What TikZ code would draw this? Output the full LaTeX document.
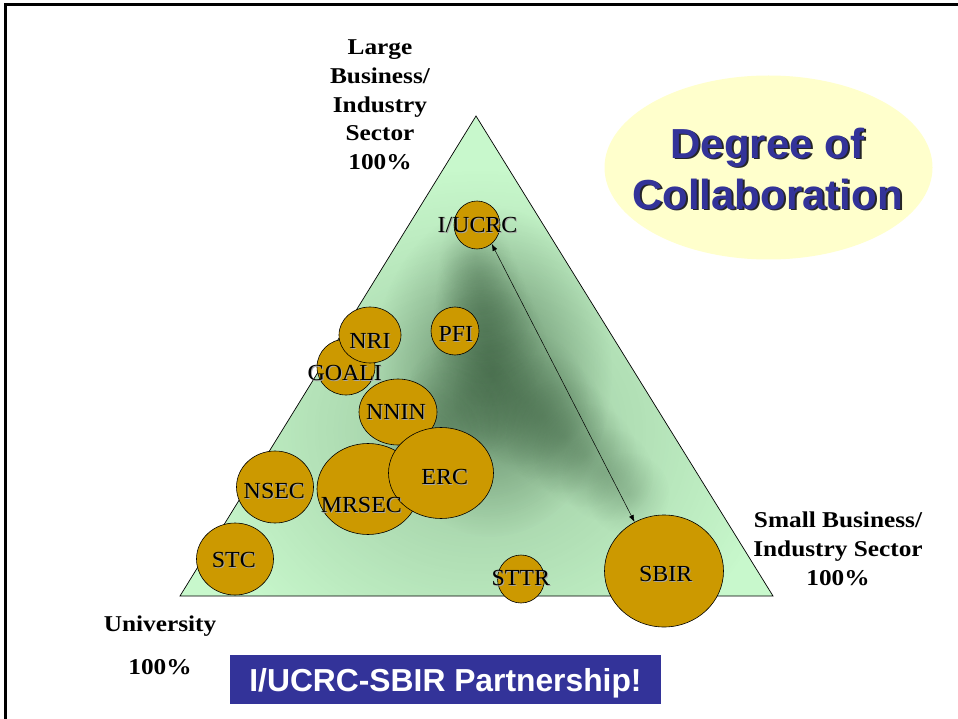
\documentclass[tikz,border=0pt]{standalone}
\usepackage{fontspec}
\setmainfont{Liberation Serif}[FakeStretch=1.12]
\newfontfamily\orgfont{Liberation Serif}[FakeStretch=1.04]
\newfontfamily\headsans{Liberation Sans}
\usepackage{tikz}
\usetikzlibrary{shapes.geometric,arrows.meta,calc,fadings}
\definecolor{trigreen}{RGB}{200,248,204}
\definecolor{shadegreen}{RGB}{50,85,55}
\definecolor{gold}{RGB}{204,153,0}
\definecolor{paleyellow}{RGB}{255,255,204}
\definecolor{slideblue}{RGB}{51,51,153}
\tikzfading[name=softblob, inner color=transparent!0, outer color=transparent!100]

\begin{document}
\begin{tikzpicture}[x=1pt,y=-1pt]
    \tikzstyle{org}=[ellipse, draw=black, line width=0.6pt, fill=gold, inner sep=0pt]
    \tikzstyle{lbl}=[anchor=base, inner sep=0pt, font=\orgfont\fontsize{23}{27}\selectfont]
    \tikzstyle{lblsh}=[lbl, text=black!35]
    \tikzstyle{head}=[align=center, inner sep=0pt, font=\bfseries\fontsize{22.6}{28.75}\selectfont]
    \tikzstyle{title}=[align=center, inner sep=0pt, font=\headsans\bfseries\fontsize{42}{51}\selectfont]
    \tikzstyle{blob}=[shadegreen, path fading=softblob]
    \useasboundingbox (0,0) rectangle (958,719);
    \fill[white] (0,0) rectangle (958,719);
    \draw[line width=3pt] (5.5,719) -- (5.5,4.5) -- (958,4.5);
    \coordinate (lb) at (180,596);
    \coordinate (top) at (476,116);
    \coordinate (rb) at (773,596);
    \fill[trigreen] (lb) -- (top) -- (rb) -- cycle;
    \begin{scope}
        \clip (lb) -- (top) -- (rb) -- cycle;
        \coordinate (sc) at (492,372);
        \coordinate (ua) at (474,250);
        \coordinate (ra) at (635,500);
        \coordinate (la) at (395,470);
        \fill[blob, opacity=0.3] (480,430) ellipse [x radius=300, y radius=260];
        \fill[blob, opacity=0.6] (sc) ellipse [x radius=120, y radius=165];
        \foreach \t in {0.2,0.35,...,1.0}
        {
            \fill[blob, opacity={0.35-0.15*\t}] ($(sc)!\t!(ra)$) circle [radius={75-35*\t}];
            \fill[blob, opacity={0.3-0.15*\t}] ($(sc)!\t!(ua)$) circle [radius={65-30*\t}];
            \fill[blob, opacity={0.2-0.1*\t}] ($(sc)!\t!(la)$) circle [radius={70-30*\t}];
        }
    \end{scope}
    \draw[line width=0.7pt] (lb) -- (top) -- (rb) -- cycle;
    \node[org, minimum width=46, minimum height=48] (iucrc) at (477,225) {};
    \node[org, minimum width=48, minimum height=48] (pfi) at (455,331) {};
    \node[org, minimum width=58, minimum height=56] (goali) at (346,367) {};
    \node[org, minimum width=62, minimum height=56] (nri) at (370,335) {};
    \node[org, minimum width=78, minimum height=66] (nnin) at (398,412) {};
    \node[org, minimum width=102, minimum height=91] (mrsec) at (368,489) {};
    \node[org, minimum width=105, minimum height=91] (erc) at (441,473) {};
    \node[org, minimum width=77, minimum height=72] (nsec) at (275,487) {};
    \node[org, minimum width=77, minimum height=72] (stc) at (235,559) {};
    \node[org, minimum width=47, minimum height=48] (sttr) at (521,579) {};
    \node[org, minimum width=119, minimum height=112] (sbir) at (664,571) {};
    \draw[{Latex[length=7pt,width=5pt]}-{Latex[length=7pt,width=5pt]}, line width=0.5pt] (iucrc.-52) -- (sbir.121);
    \foreach \n/\t/\x/\y in {iucrc/{I/UCRC}/477.5/232.7, pfi/PFI/455.8/341.7, nri/NRI/370/348.3, goali/GOALI/344.7/380, nnin/NNIN/396/419, mrsec/MRSEC/361.3/512.3, erc/ERC/444.7/484.3, nsec/NSEC/274.3/498.3, stc/STC/233.8/567.3, sttr/STTR/520.8/585.7, sbir/SBIR/665.7/581.7}
    {
        \node[lblsh] (\n-sh) at ({\x+1},{\y+1}) {\t};
        \node[lbl] (\n-txt) at (\x,\y) {\t};
    }
    \node[head] (large) at (380,105) {Large\\Business/\\Industry\\Sector\\100\%};
    \node[head] (small) at (838,549) {Small Business/\\Industry Sector\\100\%};
    \node[head, anchor=base] (univ) at (160,631.7) {University};
    \node[head, anchor=base] (univpct) at (160,674) {100\%};
    \node[ellipse, fill=paleyellow, minimum width=328, minimum height=184] (collab) at (768.5,167.5) {};
    \node[title, text=black!85] (title-sh) at (769.5,170) {Degree of\\Collaboration};
    \node[title, text=slideblue] (title) at (767.5,168.5) {Degree of\\Collaboration};
    \node[fill=slideblue, text=white, minimum width=431, minimum height=49, inner sep=0pt, text depth=0pt, font=\headsans\bfseries\fontsize{31.8}{38}\selectfont] (partner) at (445.5,679.5) {I/UCRC-SBIR Partnership!};
\end{tikzpicture}
\end{document}
